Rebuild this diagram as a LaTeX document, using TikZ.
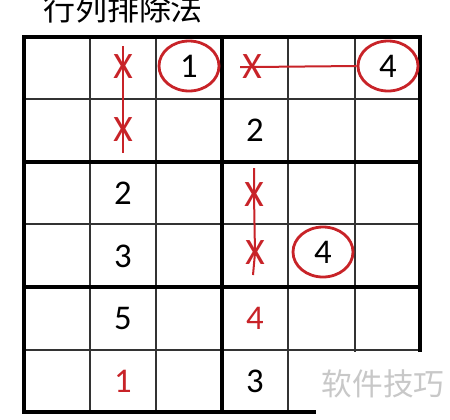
\documentclass[tikz,border=0pt]{standalone}
\usepackage{fontspec}
\setmainfont{Carlito}
\newfontfamily\cjk{Noto Sans CJK SC}
\usetikzlibrary{shapes.geometric}
\definecolor{mred}{RGB}{200,35,40}
\definecolor{wmgray}{RGB}{200,200,200}
\begin{document}
\begin{tikzpicture}[x=0.75pt,y=-0.75pt,
 thinline/.style={line width=1.2pt, draw=black!80},
 thickline/.style={line width=2.4pt, draw=black},
 digit/.style={font=\fontsize{26}{26}\selectfont, inner sep=0pt},
 rdigit/.style={digit, text=mred},
 xmark/.style={font=\fontsize{28}{28}\selectfont, inner sep=0pt, text=mred},
 ring/.style={ellipse, draw=mred, line width=2.1pt, minimum width=45pt, minimum height=37.5pt, digit},
 link/.style={draw=mred, line width=1.5pt}]
\useasboundingbox (0,0) rectangle (450,419);
\fill[white] (0,0) rectangle (450,419);
% title
\node[font=\cjk\fontsize{24}{24}\selectfont, anchor=base, inner sep=0pt] (title) at (123,20) {行列排除法};
% thin grid lines
\foreach \x in {90,156,288,355} \draw[thinline] (\x,37) -- (\x,412);
\foreach \y in {99,224,350} \draw[thinline] (24,\y) -- (420,\y);
% thick lines
\draw[thickline] (24,37) rectangle (420,412);
\draw[thickline] (222,37) -- (222,412);
\foreach \y in {162,287} \draw[thickline] (24,\y) -- (420,\y);
% watermark patch
\fill[white] (316,352) rectangle (450,419);
\node[font=\cjk\fontsize{23}{23}\selectfont, text=wmgray, anchor=base, inner sep=0pt] (wm) at (383,395) {软件技巧};
% row 1
\node[xmark] (x12) at (123,67) {X};
\node[ring] (c13) at (189,66) {1};
\node[xmark] (x14) at (252,67) {X};
\node[ring] (c16) at (388,66) {4};
% row 2
\node[xmark] (x22) at (123,130) {X};
\node[digit] (d24) at (255,130) {2};
% row 3
\node[digit] (d32) at (123,193) {2};
\node[xmark] (x34) at (254,195) {X};
% row 4
\node[digit] (d42) at (123,256) {3};
\node[xmark] (x44) at (255,253) {X};
\node[ring] (c45) at (323,252) {4};
% row 5
\node[digit] (d52) at (123,318) {5};
\node[rdigit] (d54) at (255,318) {4};
% row 6
\node[rdigit] (d62) at (123,381) {1};
\node[digit] (d64) at (255,381) {3};
% connectors
\coordinate (v1t) at (123,46);
\coordinate (v1b) at (123,153);
\draw[link] (v1t) -- (x12.center) -- (x22.center) -- (v1b);
\coordinate (h1l) at (240,67);
\draw[link] (h1l) -- (x14.center) -- (c16.west);
\coordinate (v2t) at (254,168);
\coordinate (v2b) at (253,275);
\draw[link] (v2t) -- (x34.center) -- (x44.center) -- (v2b);
\end{tikzpicture}
\end{document}
